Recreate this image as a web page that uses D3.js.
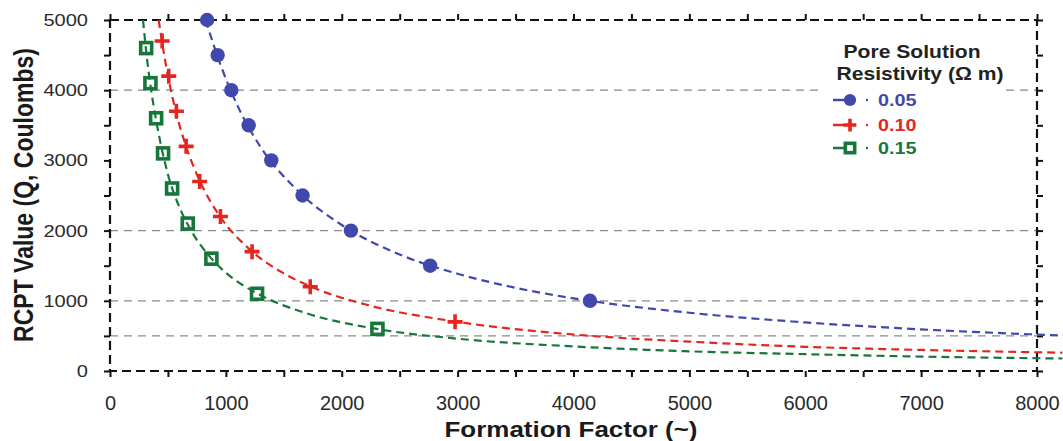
<!DOCTYPE html>
<html lang="en">
<head>
<meta charset="UTF-8">
<title>RCPT vs Formation Factor</title>
<script src="https://d3js.org/d3.v7.min.js"></script>
<style>
  body { margin: 0; background: #fff; }
  svg text { font-family: "Liberation Sans", Arial, sans-serif; }
  .tick line { stroke: #111; stroke-width: 2; }
  .frame { fill: none; stroke: #111; stroke-width: 2.2; stroke-dasharray: 9 5; }
  .grid { stroke: #8a8a8a; stroke-width: 1.2; stroke-dasharray: 8 6; }
  .fit { fill: none; stroke-width: 2.2; stroke-dasharray: 8 5; }
</style>
</head>
<body>
<svg id="chart" width="1063" height="441"></svg>
<script>
// tick values
var xTicks = [0, 500, 1000, 1500, 2000, 2500, 3000, 3500, 4000, 4500, 5000, 5500, 6000, 6500, 7000, 7500, 8000];
var yTicks = [0, 500, 1000, 1500, 2000, 2500, 3000, 3500, 4000, 4500, 5000];
var gridValues = [500, 1000, 2000, 4000];

var seriesNames = ["0.05", "0.10", "0.15"];
var seriesColors = ["#4148ad", "#e3261f", "#17773a"];

// measured points
var ff005 = [838, 929, 1047, 1197, 1392, 1662, 2079, 2763, 4142];
var q005 = [5000, 4500, 4000, 3500, 3000, 2500, 2000, 1500, 1000];
var ff010 = [450, 507, 573, 657, 774, 953, 1226, 1728, 2978];
var q010 = [4700, 4200, 3700, 3200, 2700, 2200, 1700, 1200, 700];
var ff015 = [312, 349, 398, 458, 536, 671, 875, 1269, 2308];
var q015 = [4600, 4100, 3600, 3100, 2600, 2100, 1600, 1100, 600];

// fitted curves
var fitF005 = [825, 950, 1100, 1300, 1600, 2000, 2500, 3000, 3500, 4140, 5000, 6000, 7000, 8220];
var fitQ005 = [5000, 4380, 3780, 3190, 2600, 2080, 1660, 1385, 1185, 1000, 830, 692, 593, 505];
var fitF010 = [420, 480, 560, 650, 780, 950, 1200, 1500, 1750, 2200, 3000, 4000, 5000, 6000, 7000, 8220];
var fitQ010 = [5000, 4380, 3750, 3230, 2690, 2200, 1740, 1390, 1190, 950, 700, 520, 418, 345, 300, 260];
var fitF015 = [285, 320, 360, 420, 500, 600, 700, 850, 1000, 1300, 1700, 2300, 3000, 4000, 5000, 6000, 7000, 8220];
var fitQ015 = [5000, 4440, 3950, 3380, 2800, 2330, 2000, 1650, 1400, 1080, 820, 600, 460, 350, 280, 240, 205, 178];

var svg = d3.select("#chart");

var x = d3.scaleLinear().domain([0, 8000]).range([110, 1037]);
var y = d3.scaleLinear().domain([0, 5000]).range([371, 20]);

var zip = function(a, b) { return a.map(function(v, i) { return [v, b[i]]; }); };
var points = [zip(ff005, q005), zip(ff010, q010), zip(ff015, q015)];
var fits = [zip(fitF005, fitQ005), zip(fitF010, fitQ010), zip(fitF015, fitQ015)];

// grid lines
svg.append("g").selectAll("line")
    .data(gridValues)
    .join("line")
    .attr("class", "grid")
    .attr("x1", x(0)).attr("x2", x(8000))
    .attr("y1", d => y(d)).attr("y2", d => y(d));

// axes: ticks on all four sides
function styleAxis(g) {
    g.select(".domain").remove();
}
var fmt = function(d) { return d % 1000 === 0 ? d : ""; };

var gx = svg.append("g")
    .attr("transform", "translate(0," + y(0) + ")")
    .call(d3.axisBottom(x).tickValues(xTicks).tickSize(6).tickPadding(19).tickFormat(fmt))
    .call(styleAxis);
gx.selectAll("text").style("font-size", "20px").attr("fill", "#2a2a2a");

var gy = svg.append("g")
    .attr("transform", "translate(" + x(0) + ",0)")
    .call(d3.axisLeft(y).tickValues(yTicks).tickSize(6).tickFormat(fmt))
    .call(styleAxis);
// labels end at x = 88, slightly stretched
gy.selectAll("text")
    .style("font-size", "17px")
    .attr("fill", "#2a2a2a")
    .attr("text-anchor", "end")
    .attr("x", 0)
    .attr("transform", "translate(" + (88 - x(0)) + ",0) scale(1.18,1)");

svg.append("g")
    .attr("transform", "translate(0," + y(5000) + ")")
    .call(d3.axisTop(x).tickValues(xTicks).tickSize(6).tickFormat(""))
    .call(styleAxis);
svg.append("g")
    .attr("transform", "translate(" + x(8000) + ",0)")
    .call(d3.axisRight(y).tickValues(yTicks).tickSize(6).tickFormat(""))
    .call(styleAxis);

// dashed frame
svg.append("rect")
    .attr("class", "frame")
    .attr("x", x(0)).attr("y", y(5000))
    .attr("width", x(8000) - x(0))
    .attr("height", y(0) - y(5000));

// markers
function drawMarker(g, i, cx, cy, s) {
    var c = seriesColors[i];
    if (i === 0) {
        g.append("circle").attr("cx", cx).attr("cy", cy).attr("r", 7.2 * s).attr("fill", c);
    } else if (i === 1) {
        var a = 7.5 * s;
        g.append("path")
            .attr("d", "M" + (cx - a) + "," + cy + "H" + (cx + a) + "M" + cx + "," + (cy - a) + "V" + (cy + a))
            .attr("stroke", c).attr("stroke-width", 3.6).attr("fill", "none");
    } else {
        var h = 5.5 * s;
        g.append("rect").attr("x", cx - h).attr("y", cy - h)
            .attr("width", 2 * h).attr("height", 2 * h)
            .attr("fill", "#fff").attr("stroke", c).attr("stroke-width", 3.6);
    }
}

var markerG = svg.append("g");
points.forEach(function(pts, i) {
    pts.forEach(function(p) { drawMarker(markerG, i, x(p[0]), y(p[1]), 1); });
});

// fitted dashed curves
var line = d3.line()
    .x(d => x(d[0]))
    .y(d => y(d[1]))
    .curve(d3.curveMonotoneX);

svg.append("g").selectAll("path")
    .data(fits)
    .join("path")
    .attr("class", "fit")
    .attr("stroke", (d, i) => seriesColors[i])
    .attr("d", line);

// legend
var lg = svg.append("g");
lg.append("rect")
    .attr("x", 822).attr("y", 36).attr("width", 184).attr("height", 126)
    .attr("fill", "#fff");

lg.append("text")
    .attr("transform", "translate(912,58) scale(1.14,1)")
    .attr("text-anchor", "middle")
    .style("font-size", "18.5px").style("font-weight", "bold").attr("fill", "#222")
    .text("Pore Solution");
lg.append("text")
    .attr("transform", "translate(920,80) scale(1.14,1)")
    .attr("text-anchor", "middle")
    .style("font-size", "18.5px").style("font-weight", "bold").attr("fill", "#222")
    .text("Resistivity (\u03A9 m)");

var legendY = [100, 125, 148];
seriesNames.forEach(function(name, i) {
    var ly = legendY[i];
    lg.append("line")
        .attr("x1", 833).attr("x2", 845).attr("y1", ly).attr("y2", ly)
        .attr("stroke", seriesColors[i]).attr("stroke-width", 2.5);
    drawMarker(lg, i, 850, ly, 0.85);
    lg.append("circle").attr("cx", 867).attr("cy", ly).attr("r", 1.2).attr("fill", seriesColors[i]);
    lg.append("text")
        .attr("transform", "translate(878," + (ly + 6) + ") scale(1.2,1)")
        .style("font-size", "16.5px").style("font-weight", "bold")
        .attr("fill", seriesColors[i])
        .text(name);
});

// axis titles
svg.append("text")
    .attr("transform", "translate(571,437) scale(1.18,1)")
    .attr("text-anchor", "middle")
    .style("font-size", "22px").style("font-weight", "bold").attr("fill", "#1a1a1a")
    .text("Formation Factor (~)");

svg.append("text")
    .attr("transform", "translate(33,195) scale(1.18,1) rotate(-90)")
    .attr("text-anchor", "middle")
    .style("font-size", "23px").style("font-weight", "bold").attr("fill", "#1a1a1a")
    .text("RCPT Value (Q, Coulombs)");
</script>
</body>
</html>
